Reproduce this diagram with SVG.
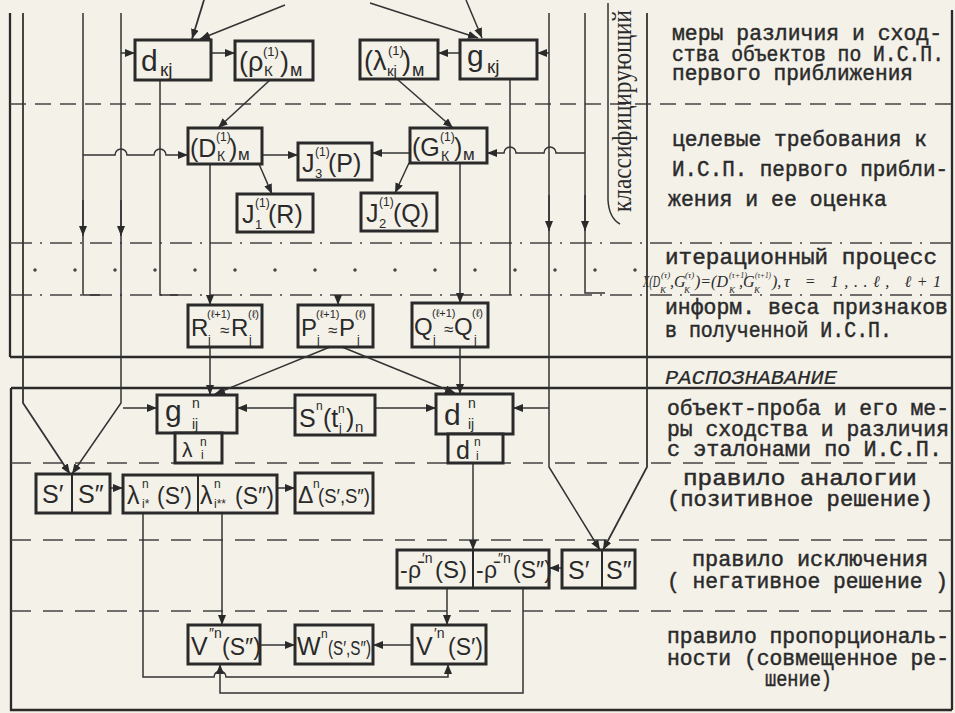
<svg xmlns="http://www.w3.org/2000/svg" width="955" height="713" viewBox="0 0 955 713">
<style>
.bx{fill:#f4f1e9;stroke:#2a2a2a;stroke-width:3}
.dv{fill:none;stroke:#2a2a2a;stroke-width:2}
.ln{fill:none;stroke:#333;stroke-width:1.5}
.lt{fill:none;stroke:#333;stroke-width:1.8}
.fr{fill:none;stroke:#2a2a2a;stroke-width:2.3}
.da{fill:none;stroke:#444;stroke-width:1.5;stroke-dasharray:16 9}
.db{fill:none;stroke:#444;stroke-width:1.5;stroke-dasharray:20 12}
.dd{fill:none;stroke:#444;stroke-width:1.5;stroke-dasharray:22 8 2 8}
.dt{fill:none;stroke:#444;stroke-width:3.5;stroke-linecap:round;stroke-dasharray:0 40}
.tw{font-family:"Liberation Mono","DejaVu Sans Mono",monospace;font-size:21.5px;fill:#2a2a2a;stroke:#2a2a2a;stroke-width:0.45}
.hw{font-family:"Liberation Sans","DejaVu Sans",sans-serif;fill:#2a2a2a}
.fm{font-family:"Liberation Serif","DejaVu Serif",serif;font-style:italic;fill:#2a2a2a}
.vt{font-family:"Liberation Serif","DejaVu Serif",serif;fill:#2a2a2a}
</style>
<defs>
<marker id="a" viewBox="0 0 10 8" refX="10" refY="4" markerWidth="10" markerHeight="8" markerUnits="userSpaceOnUse" orient="auto"><path d="M0,0 L10,4 L0,8 z" fill="#2a2a2a"/></marker>
</defs>
<rect x="0" y="0" width="955" height="713" fill="#f4f1e9"/>

<g id="frame">
<path class="fr" d="M10,13 V357 M10,357 H952 M11,388 H952 M11,388 V710 H952 M952,10 V710"/>
<path class="da" d="M10,104 H952"/>
<path class="dd" d="M10,243 H952 M10,295 H952"/>
<path class="dt" d="M35,270 H650"/>
<path class="db" d="M11,463 H952 M11,540 H952 M11,611 H952"/>
</g>

<g id="connectors">
<path class="lt" d="M23,13 V403 L70,474" marker-end="url(#a)"/>
<path class="ln" d="M83,13 V295 H100"/>
<path class="ln" d="M83,200 V236" marker-end="url(#a)"/>
<path class="ln" d="M83,155 H115 a6,6 0 0 1 12,0 H154 a6,6 0 0 1 12,0 H188" marker-end="url(#a)"/>
<path class="ln" d="M121,13 V403 L72,474" marker-end="url(#a)"/>
<path class="ln" d="M121,200 V236" marker-end="url(#a)"/>
<path class="ln" d="M121,53 H135" marker-end="url(#a)"/>
<path class="ln" d="M123,408 H157" marker-end="url(#a)"/>
<path class="ln" d="M160,80 V295 H178"/>
<path class="ln" d="M210,164 V305" marker-end="url(#a)"/>
<path class="ln" d="M210,347 V395" marker-end="url(#a)"/>
<path class="ln" d="M460,163 V303" marker-end="url(#a)"/>
<path class="ln" d="M460,347 V394" marker-end="url(#a)"/>
<path class="ln" d="M510,79 V295"/>
<path class="ln" d="M549,13 V467 L600,550" marker-end="url(#a)"/>
<path class="ln" d="M549,53 H537" marker-end="url(#a)"/>
<path class="ln" d="M549,195 V231" marker-end="url(#a)"/>
<path class="ln" d="M549,408 H513" marker-end="url(#a)"/>
<path class="ln" d="M585,13 V293 H605"/>
<path class="ln" d="M585,195 V231" marker-end="url(#a)"/>
<path class="ln" d="M585,153 H556 a6,6 0 0 0 -12,0 H516 a6,6 0 0 0 -12,0 H487" marker-end="url(#a)"/>
<path class="lt" d="M647,13 V467 L603,550" marker-end="url(#a)"/>
<path class="ln" d="M608,3 V200 Q609,218 620,224"/>
<path class="lt" d="M204,0 L192,39" stroke-width="2.5" marker-end="url(#a)"/>
<path class="ln" d="M285,5 L200,39" marker-end="url(#a)"/>
<path class="ln" d="M370,3 L478,38" marker-end="url(#a)"/>
<path class="ln" d="M466,0 L482,38" marker-end="url(#a)"/>
<path class="ln" d="M211,53 H235" marker-end="url(#a)"/>
<path class="ln" d="M460,53 H438" marker-end="url(#a)"/>
<path class="ln" d="M270,80 L218,128" marker-end="url(#a)"/>
<path class="ln" d="M397,79 L453,128" marker-end="url(#a)"/>
<path class="ln" d="M262,155 H298" marker-end="url(#a)"/>
<path class="ln" d="M410,153 H372" marker-end="url(#a)"/>
<path class="ln" d="M259,164 L272,194" marker-end="url(#a)"/>
<path class="ln" d="M409,163 L395,193" marker-end="url(#a)"/>
<path class="ln" d="M338,295 V305" marker-end="url(#a)"/>
<path class="ln" d="M330,347 L215,394" marker-end="url(#a)"/>
<path class="ln" d="M342,347 L455,393" marker-end="url(#a)"/>
<path class="ln" d="M295,408 H237" marker-end="url(#a)"/>
<path class="ln" d="M375,408 H436" marker-end="url(#a)"/>
<path class="ln" d="M473,463 V550" marker-end="url(#a)"/>
<path class="ln" d="M562,568 H549" marker-end="url(#a)"/>
<path class="ln" d="M110,488 H123" marker-end="url(#a)"/>
<path class="ln" d="M277,488 H295" marker-end="url(#a)"/>
<path class="ln" d="M143,513 V677 H214 a6,6 0 0 1 12,0 H448 V664" marker-end="url(#a)"/>
<path class="ln" d="M222,513 V625" marker-end="url(#a)"/>
<path class="ln" d="M447,588 V625" marker-end="url(#a)"/>
<path class="ln" d="M523,588 V693 H220 V664" marker-end="url(#a)"/>
<path class="ln" d="M260,645 H295" marker-end="url(#a)"/>
<path class="ln" d="M412,645 H373" marker-end="url(#a)"/>
</g>

<g id="n_dkj"><rect class="bx" x="135" y="40" width="76" height="40"/>
<text class="hw"><tspan x="141" y="71" font-size="30">d</tspan><tspan x="160" y="76" font-size="19">кj</tspan></text></g>
<g id="n_rho"><rect class="bx" x="235" y="41" width="78" height="39"/>
<text class="hw"><tspan x="239" y="71" font-size="27">(ρ</tspan><tspan x="263" y="56" font-size="13">(1)</tspan><tspan x="264" y="76" font-size="15">К</tspan><tspan x="280" y="71" font-size="27">)</tspan><tspan x="290" y="76" font-size="18">м</tspan></text></g>
<g id="n_lam"><rect class="bx" x="360" y="40" width="78" height="39"/>
<text class="hw"><tspan x="364" y="70" font-size="27">(λ</tspan><tspan x="388" y="55" font-size="13">(1)</tspan><tspan x="387" y="76" font-size="15">кj</tspan><tspan x="402" y="70" font-size="27">)</tspan><tspan x="412" y="76" font-size="18">м</tspan></text></g>
<g id="n_gkj"><rect class="bx" x="460" y="40" width="77" height="39"/>
<text class="hw"><tspan x="467" y="66" font-size="30">g</tspan><tspan x="487" y="73" font-size="19">кj</tspan></text></g>
<g id="n_D"><rect class="bx" x="188" y="128" width="74" height="36"/>
<text class="hw"><tspan x="190" y="157" font-size="25">(D</tspan><tspan x="216" y="141" font-size="12">(1)</tspan><tspan x="217" y="161" font-size="14">К</tspan><tspan x="229" y="157" font-size="25">)</tspan><tspan x="238" y="160" font-size="17">м</tspan></text></g>
<g id="n_G"><rect class="bx" x="410" y="128" width="77" height="35"/>
<text class="hw"><tspan x="412" y="156" font-size="25">(G</tspan><tspan x="440" y="141" font-size="12">(1)</tspan><tspan x="441" y="161" font-size="14">К</tspan><tspan x="454" y="156" font-size="25">)</tspan><tspan x="463" y="160" font-size="17">м</tspan></text></g>
<g id="n_J3"><rect class="bx" x="298" y="143" width="74" height="37"/>
<text class="hw"><tspan x="302" y="172" font-size="25">J</tspan><tspan x="315" y="178" font-size="13">3</tspan><tspan x="315" y="156" font-size="12">(1)</tspan><tspan x="328" y="172" font-size="25">(P)</tspan></text></g>
<g id="n_J1"><rect class="bx" x="237" y="194" width="76" height="38"/>
<text class="hw"><tspan x="242" y="223" font-size="25">J</tspan><tspan x="255" y="229" font-size="13">1</tspan><tspan x="255" y="207" font-size="12">(1)</tspan><tspan x="268" y="223" font-size="25">(R)</tspan></text></g>
<g id="n_J2"><rect class="bx" x="361" y="193" width="76" height="38"/>
<text class="hw"><tspan x="366" y="222" font-size="25">J</tspan><tspan x="379" y="228" font-size="13">2</tspan><tspan x="379" y="206" font-size="12">(1)</tspan><tspan x="393" y="222" font-size="25">(Q)</tspan></text></g>
<g id="n_R"><rect class="bx" x="188" y="305" width="74" height="42"/>
<text class="hw"><tspan x="191" y="336" font-size="24">R</tspan><tspan x="207" y="318" font-size="11">(ℓ+1)</tspan><tspan x="208" y="344" font-size="12">j</tspan><tspan x="220" y="336" font-size="17">≈</tspan><tspan x="231" y="336" font-size="24">R</tspan><tspan x="248" y="318" font-size="11">(ℓ)</tspan><tspan x="249" y="344" font-size="12">j</tspan></text></g>
<g id="n_P"><rect class="bx" x="298" y="305" width="75" height="42"/>
<text class="hw"><tspan x="301" y="336" font-size="24">P</tspan><tspan x="316" y="318" font-size="11">(ℓ+1)</tspan><tspan x="317" y="344" font-size="12">j</tspan><tspan x="328" y="336" font-size="17">≈</tspan><tspan x="339" y="336" font-size="24">P</tspan><tspan x="355" y="318" font-size="11">(ℓ)</tspan><tspan x="357" y="344" font-size="12">j</tspan></text></g>
<g id="n_Q"><rect class="bx" x="412" y="303" width="76" height="44"/>
<text class="hw"><tspan x="414" y="335" font-size="24">Q</tspan><tspan x="432" y="317" font-size="11">(ℓ+1)</tspan><tspan x="433" y="344" font-size="12">j</tspan><tspan x="444" y="335" font-size="17">≈</tspan><tspan x="454" y="335" font-size="24">Q</tspan><tspan x="472" y="317" font-size="11">(ℓ)</tspan><tspan x="474" y="344" font-size="12">j</tspan></text></g>
<g id="n_gij"><rect class="bx" x="157" y="395" width="80" height="38"/>
<text class="hw"><tspan x="165" y="421" font-size="30">g</tspan><tspan x="192" y="408" font-size="14">n</tspan><tspan x="192" y="429" font-size="14">ij</tspan></text></g>
<g id="n_lami"><rect class="bx" x="175" y="433" width="47" height="30"/>
<text class="hw"><tspan x="182" y="457" font-size="21">λ</tspan><tspan x="200" y="446" font-size="12">n</tspan><tspan x="201" y="459" font-size="12">i</tspan></text></g>
<g id="n_S"><rect class="bx" x="295" y="395" width="80" height="40"/>
<text class="hw"><tspan x="299" y="427" font-size="25">S</tspan><tspan x="316" y="410" font-size="12">n</tspan><tspan x="323" y="427" font-size="25">(t</tspan><tspan x="338" y="413" font-size="12">n</tspan><tspan x="339" y="432" font-size="12">j</tspan><tspan x="346" y="427" font-size="25">)</tspan><tspan x="355" y="432" font-size="15">n</tspan></text></g>
<g id="n_dij"><rect class="bx" x="436" y="394" width="77" height="40"/>
<text class="hw"><tspan x="444" y="425" font-size="30">d</tspan><tspan x="468" y="408" font-size="14">n</tspan><tspan x="468" y="429" font-size="14">ij</tspan></text></g>
<g id="n_di"><rect class="bx" x="448" y="434" width="55" height="29"/>
<text class="hw"><tspan x="456" y="459" font-size="25">d</tspan><tspan x="474" y="446" font-size="12">n</tspan><tspan x="476" y="460" font-size="12">i</tspan></text></g>
<g id="n_S12a"><rect class="bx" x="36" y="474" width="74" height="39"/><path class="dv" d="M72,474 V513"/>
<text class="hw" font-size="25"><tspan x="42" y="503">S′</tspan><tspan x="78" y="503">S″</tspan></text></g>
<g id="n_lamstar"><rect class="bx" x="123" y="475" width="154" height="38"/><path class="dv" d="M198,475 V513"/>
<text class="hw"><tspan x="127" y="504" font-size="25">λ</tspan><tspan x="142" y="488" font-size="12">n</tspan><tspan x="142" y="508" font-size="12">i*</tspan><tspan x="157" y="504" font-size="23">(S′)</tspan><tspan x="200" y="504" font-size="25">λ</tspan><tspan x="214" y="488" font-size="12">n</tspan><tspan x="214" y="508" font-size="12">i**</tspan><tspan x="235" y="504" font-size="23">(S″)</tspan></text></g>
<g id="n_Delta"><rect class="bx" x="295" y="473" width="78" height="40"/>
<text class="hw"><tspan x="298" y="503" font-size="23">Δ</tspan><tspan x="313" y="488" font-size="12">n</tspan></text>
<text class="hw" x="318" y="503" font-size="21" textLength="52" lengthAdjust="spacingAndGlyphs">(S′,S″)</text></g>
<g id="n_rhoneg"><rect class="bx" x="397" y="550" width="152" height="38"/><path class="dv" d="M473,550 V588"/>
<text class="hw"><tspan x="400" y="578" font-size="23">-</tspan><tspan x="408" y="578" font-size="23">ρ̄</tspan><tspan x="422" y="563" font-size="14">′n</tspan><tspan x="435" y="578" font-size="24">(S)</tspan><tspan x="476" y="578" font-size="23">-</tspan><tspan x="484" y="578" font-size="23">ρ̄</tspan><tspan x="498" y="563" font-size="14">″n</tspan><tspan x="513" y="578" font-size="23">(S″)</tspan></text></g>
<g id="n_S12b"><rect class="bx" x="562" y="550" width="73" height="38"/><path class="dv" d="M602,550 V588"/>
<text class="hw" font-size="25"><tspan x="568" y="579">S′</tspan><tspan x="606" y="579">S″</tspan></text></g>
<g id="n_V2"><rect class="bx" x="188" y="625" width="72" height="39"/>
<text class="hw"><tspan x="191" y="655" font-size="25">V</tspan><tspan x="209" y="638" font-size="14">″n</tspan><tspan x="222" y="655" font-size="23">(S″)</tspan></text></g>
<g id="n_W"><rect class="bx" x="295" y="625" width="78" height="39"/>
<text class="hw"><tspan x="297" y="655" font-size="25">W</tspan><tspan x="321" y="638" font-size="12">n</tspan></text>
<text class="hw" x="328" y="655" font-size="20" textLength="43" lengthAdjust="spacingAndGlyphs">(S′,S″)</text></g>
<g id="n_V1"><rect class="bx" x="412" y="625" width="74" height="39"/>
<text class="hw"><tspan x="416" y="655" font-size="25">V</tspan><tspan x="434" y="638" font-size="14">′n</tspan><tspan x="448" y="655" font-size="23">(S′)</tspan></text></g>

<g id="label_class">
<text class="vt" font-size="27" transform="translate(631,212) rotate(-90)" textLength="202" lengthAdjust="spacingAndGlyphs">классифицирующий</text>
</g>

<g id="side_text" class="tw">
<text x="672" y="40" textLength="270" lengthAdjust="spacingAndGlyphs">меры различия и сход-</text>
<text x="672" y="61" textLength="272" lengthAdjust="spacingAndGlyphs">ства объектов по И.С.П.</text>
<text x="672" y="80" textLength="241" lengthAdjust="spacingAndGlyphs">первого приближения</text>
<text x="672" y="146" textLength="255" lengthAdjust="spacingAndGlyphs">целевые требования к</text>
<text x="672" y="176" textLength="276" lengthAdjust="spacingAndGlyphs">И.С.П. первого прибли-</text>
<text x="668" y="206" textLength="219" lengthAdjust="spacingAndGlyphs">жения и ее оценка</text>
<text x="665" y="264" textLength="272" lengthAdjust="spacingAndGlyphs">итерационный процесс</text>
<text x="665" y="314" textLength="283" lengthAdjust="spacingAndGlyphs">информ. веса признаков</text>
<text x="665" y="337" textLength="227" lengthAdjust="spacingAndGlyphs">в полученной И.С.П.</text>
<text x="665" y="384" font-size="20" font-style="italic" stroke-width="0.2" textLength="172" lengthAdjust="spacingAndGlyphs">РАСПОЗНАВАНИЕ</text>
<text x="667" y="415" textLength="282" lengthAdjust="spacingAndGlyphs">объект-проба и его ме-</text>
<text x="667" y="436" textLength="282" lengthAdjust="spacingAndGlyphs">ры сходства и различия</text>
<text x="667" y="456" textLength="275" lengthAdjust="spacingAndGlyphs">с эталонами по И.С.П.</text>
<text x="683" y="485" textLength="234" lengthAdjust="spacingAndGlyphs">правило аналогии</text>
<text x="667" y="506" textLength="266" lengthAdjust="spacingAndGlyphs">(позитивное решение)</text>
<text x="692" y="566" textLength="236" lengthAdjust="spacingAndGlyphs">правило исключения</text>
<text x="667" y="588" textLength="281" lengthAdjust="spacingAndGlyphs">( негативное решение )</text>
<text x="667" y="643" textLength="282" lengthAdjust="spacingAndGlyphs">правило пропорциональ-</text>
<text x="667" y="665" textLength="282" lengthAdjust="spacingAndGlyphs">ности (совмещенное ре-</text>
<text x="765" y="686" textLength="67" lengthAdjust="spacingAndGlyphs">шение)</text>
</g>

<g id="formula" class="fm">
<text x="643" y="287" font-size="16" textLength="17" lengthAdjust="spacingAndGlyphs">X(D</text>
<text x="661" y="278" font-size="9">(τ)</text>
<text x="660" y="293" font-size="9">K</text>
<text x="670" y="287" font-size="16">,G</text>
<text x="685" y="278" font-size="9">(τ)</text>
<text x="684" y="293" font-size="9">K</text>
<text x="695" y="287" font-size="16" textLength="33" lengthAdjust="spacingAndGlyphs">)=(D</text>
<text x="729" y="278" font-size="9" textLength="18" lengthAdjust="spacingAndGlyphs">(τ+1)</text>
<text x="729" y="293" font-size="9">K</text>
<text x="739" y="287" font-size="16">,G</text>
<text x="755" y="278" font-size="9" textLength="16" lengthAdjust="spacingAndGlyphs">(τ+1)</text>
<text x="754" y="293" font-size="9">K</text>
<text x="772" y="287" font-size="16">),</text>
<text x="784" y="287" font-size="16" textLength="157" lengthAdjust="spacing">τ = 1,..ℓ, ℓ+1</text>
</g>
</svg>
